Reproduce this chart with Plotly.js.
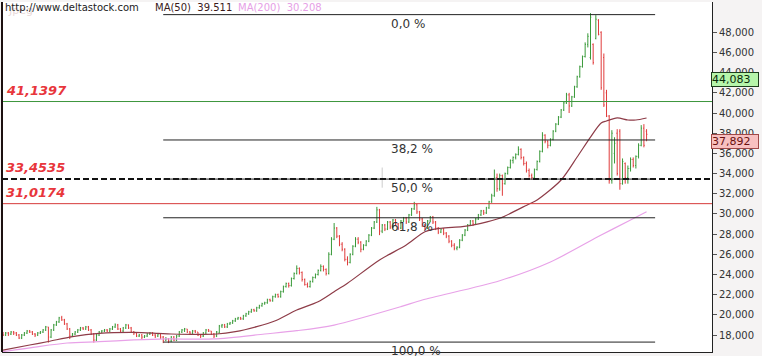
<!DOCTYPE html>
<html>
<head>
<meta charset="utf-8">
<script src="https://cdn.plot.ly/plotly-3.0.1.min.js"></script>
<style>html,body{margin:0;padding:0;background:#fff;}#chart{width:762px;height:356px;}</style>
</head>
<body>
<div id="chart"></div>
<script>
// Prices in thousands (weekly OHLC bars)
const openP = [
18.1,18.0,18.2,18.1,18.3,18.2,18.0,17.7,18.0,18.2,
18.4,18.3,18.1,18.0,18.2,18.3,18.5,18.8,17.8,18.5,
19.0,19.3,19.7,19.5,19.1,18.6,17.9,18.1,18.3,18.5,
18.7,18.6,18.8,18.5,18.1,17.5,18.0,18.3,18.4,18.5,
18.4,18.6,18.8,19.0,18.6,18.4,18.7,19.0,18.7,18.3,
18.2,17.9,18.0,17.8,17.9,18.1,18.2,18.0,17.9,18.1,
17.8,17.5,17.6,17.4,17.8,17.5,17.9,18.3,18.5,18.6,
18.3,18.2,18.4,18.3,18.0,17.9,18.2,18.5,18.4,18.1,
17.9,18.2,18.9,19.0,18.8,19.1,19.2,19.4,19.6,19.7,
19.6,19.9,20.1,20.3,20.5,20.4,20.7,20.9,21.1,21.2,
21.5,21.4,21.8,22.0,21.8,22.3,22.8,23.1,22.9,23.6,
24.1,24.6,24.2,23.5,23.0,22.8,23.3,23.7,24.0,24.4,
24.8,24.5,24.1,26.0,27.5,28.6,27.8,27.0,26.5,25.5,
25.2,26.0,26.8,27.5,27.2,26.5,26.9,27.3,27.9,28.6,
29.2,30.4,28.3,28.9,28.5,29.2,28.7,29.4,29.0,28.6,
29.3,29.6,29.2,29.9,30.5,30.9,30.2,29.5,28.9,28.6,
29.3,29.7,29.2,28.6,28.2,28.5,28.1,27.8,27.3,26.9,
26.6,26.7,27.4,27.9,28.4,28.9,29.3,29.0,29.5,29.9,
30.3,30.1,30.6,31.2,31.8,33.6,32.5,33.8,33.0,34.0,
34.6,35.3,35.6,35.9,36.4,35.6,35.0,34.3,33.8,33.6,
34.4,35.2,36.2,37.8,37.2,36.8,37.4,38.2,38.9,39.6,
40.3,41.0,41.8,40.7,41.6,42.6,43.6,44.6,45.6,46.8,
45.5,46.8,47.4,49.2,48.0,45.5,42.0,39.7,33.3,36.0,
38.0,38.2,33.0,35.0,33.6,34.5,35.4,34.8,35.7,36.8,
38.5,38.2];
const highP = [
18.3,18.3,18.3,18.4,18.4,18.3,18.1,18.1,18.3,18.5,
18.5,18.4,18.2,18.3,18.4,18.6,18.9,18.8,18.6,19.1,
19.4,19.8,19.9,19.6,19.2,18.7,18.2,18.4,18.6,18.8,
18.8,18.9,18.9,18.6,18.2,18.1,18.4,18.5,18.6,18.6,
18.7,18.9,19.15,19.1,18.7,18.8,19.1,19.05,18.8,18.4,
18.3,18.1,18.1,18.0,18.2,18.3,18.3,18.1,18.2,18.2,
17.9,17.8,17.7,17.9,17.9,18.0,18.4,18.6,18.7,18.6,
18.4,18.5,18.5,18.3,18.1,18.3,18.6,18.6,18.4,18.2,
18.4,19.0,19.1,19.1,19.2,19.3,19.5,19.7,19.8,19.8,
20.0,20.2,20.4,20.6,20.6,20.8,21.0,21.2,21.3,21.6,
21.6,21.9,22.1,22.1,22.4,22.9,23.2,23.2,23.7,24.2,
24.9,24.7,24.3,23.6,23.2,23.4,23.8,24.1,24.5,25.0,
24.9,24.6,26.2,27.7,29.1,28.7,27.9,27.2,26.6,25.8,
26.1,26.9,27.7,27.7,27.3,27.0,27.4,28.0,28.7,29.3,
30.7,30.5,29.0,29.0,29.3,29.3,29.5,29.5,29.1,29.4,
29.7,29.7,30.0,30.6,31.2,31.0,30.3,29.6,29.0,29.4,
29.8,29.8,29.3,28.7,28.6,28.6,28.2,27.9,27.4,27.1,
26.8,27.5,28.0,28.5,29.0,29.4,29.4,29.6,30.0,30.4,
30.4,30.7,31.3,32.0,34.4,34.0,34.0,33.9,34.1,34.7,
35.4,35.7,36.0,36.7,36.5,35.7,35.2,34.5,34.0,34.5,
35.3,36.3,38.1,37.9,37.3,37.5,38.3,39.0,39.7,40.4,
41.1,42.0,42.0,41.7,42.7,43.7,44.7,45.7,47.0,47.9,
49.9,46.9,49.7,49.3,48.1,45.9,42.3,39.8,38.3,37.6,
38.4,38.4,35.5,35.1,34.8,35.6,35.6,35.8,37.0,38.8,
38.9,38.4];
const lowP = [
17.9,17.9,17.9,18.0,18.0,17.9,17.6,17.6,17.9,18.1,
18.2,18.0,17.8,17.9,18.1,18.2,18.4,17.25,17.7,18.4,
18.9,19.2,19.4,19.0,18.5,17.6,17.8,18.0,18.2,18.4,
18.5,18.5,18.4,18.0,17.25,17.4,17.9,18.2,18.3,18.3,
18.3,18.5,18.7,18.5,18.3,18.3,18.6,18.6,18.2,18.0,
17.8,17.8,17.6,17.7,17.8,18.0,17.9,17.7,17.8,17.6,
17.2,17.4,17.2,17.3,17.4,17.4,17.8,18.2,18.3,18.2,
18.0,18.1,18.2,17.9,17.7,17.8,18.1,18.3,18.0,17.7,
17.8,18.2,18.7,18.7,18.7,19.0,19.1,19.3,19.5,19.5,
19.5,19.8,20.0,20.2,20.3,20.3,20.6,20.8,21.0,21.1,
21.3,21.3,21.7,21.7,21.7,22.2,22.7,22.7,22.8,23.5,
24.0,24.0,23.3,22.9,22.7,22.7,23.2,23.6,23.9,24.3,
24.3,23.9,24.0,25.9,27.4,27.6,26.8,26.3,25.3,24.9,
25.1,25.9,26.7,27.0,26.2,26.4,26.8,27.2,27.8,28.5,
29.1,27.9,28.1,28.3,28.4,28.5,28.6,28.9,28.4,28.5,
29.2,29.0,29.1,29.8,30.4,30.0,29.3,28.7,28.4,28.5,
29.2,29.0,28.4,28.0,28.1,27.9,27.6,27.1,26.7,26.4,
26.4,26.6,27.3,27.8,28.3,28.8,28.8,28.9,29.4,29.8,
29.9,30.0,30.5,31.1,31.7,32.2,32.3,31.8,32.9,33.9,
34.5,35.0,35.4,35.8,35.4,34.8,34.1,33.6,33.4,33.5,
34.3,35.1,36.1,37.0,36.5,36.7,37.3,38.1,38.8,39.5,
40.2,40.9,40.0,40.6,41.5,42.5,43.5,44.5,45.5,46.5,
45.3,44.8,47.3,47.7,42.3,40.6,39.6,33.0,33.0,35.0,
33.8,32.4,32.9,33.0,33.0,34.2,34.6,34.5,35.5,36.7,
36.6,37.2];
const closeP = [
18.0,18.2,18.1,18.3,18.2,18.0,17.7,18.0,18.2,18.4,
18.3,18.1,18.0,18.2,18.3,18.5,18.8,17.8,18.5,19.0,
19.3,19.7,19.5,19.1,18.6,17.9,18.1,18.3,18.5,18.7,
18.6,18.8,18.5,18.1,17.5,18.0,18.3,18.4,18.5,18.4,
18.6,18.8,19.0,18.6,18.4,18.7,19.0,18.7,18.3,18.2,
17.9,18.0,17.8,17.9,18.1,18.2,18.0,17.9,18.1,17.8,
17.5,17.6,17.4,17.8,17.5,17.9,18.3,18.5,18.6,18.3,
18.2,18.4,18.3,18.0,17.9,18.2,18.5,18.4,18.1,17.9,
18.3,18.9,19.0,18.8,19.1,19.2,19.4,19.6,19.7,19.6,
19.9,20.1,20.3,20.5,20.4,20.7,20.9,21.1,21.2,21.5,
21.4,21.8,22.0,21.8,22.3,22.8,23.1,22.9,23.6,24.1,
24.6,24.2,23.5,23.0,22.8,23.3,23.7,24.0,24.4,24.8,
24.5,24.1,26.0,27.5,28.6,27.8,27.0,26.5,25.5,25.2,
26.0,26.8,27.5,27.2,26.5,26.9,27.3,27.9,28.6,29.2,
30.4,28.3,28.9,28.5,29.2,28.7,29.4,29.0,28.6,29.3,
29.6,29.2,29.9,30.5,30.9,30.2,29.5,28.9,28.6,29.3,
29.7,29.2,28.6,28.2,28.5,28.1,27.8,27.3,26.9,26.6,
26.7,27.4,27.9,28.4,28.9,29.3,29.0,29.5,29.9,30.3,
30.1,30.6,31.2,31.8,33.6,32.5,33.8,33.0,34.0,34.6,
35.3,35.6,35.9,36.4,35.6,35.0,34.3,33.8,33.6,34.4,
35.2,36.2,37.8,37.2,36.8,37.4,38.2,38.9,39.6,40.3,
41.0,41.8,40.7,41.6,42.6,43.6,44.6,45.6,46.8,47.6,
49.5,45.0,49.3,47.8,42.5,40.8,39.7,33.3,38.0,37.0,
34.0,33.0,35.2,33.6,34.5,35.4,34.8,35.7,36.8,38.5,
36.8,37.892];

// Moving averages (bar index, value)
const ma50X = [0,10,17,26,36,49,58,63,80,87,95,102,110,118,124,129,141,151,158,164,172,179,186,197,200,209,215,220,224,226,230,234,237,241];
const ma50  = [16.50,17.01,17.36,17.85,18.17,18.27,18.17,18.10,18.10,18.33,18.83,19.42,20.48,21.30,22.29,23.13,25.44,26.92,28.24,28.58,28.74,29.07,29.57,30.99,31.38,33.36,35.64,37.62,39.01,39.21,39.51,39.31,39.31,39.51];
const ma200X = [0,12,24,36,49,61,79,98,110,124,149,157,186,205,224,235,241];
const ma200  = [16.35,16.81,17.21,17.34,17.51,17.61,17.61,18.10,18.43,18.99,20.81,21.47,23.38,25.24,27.91,29.40,30.21];

// Fibonacci retracement levels
const fibLevels = [49.75, 37.33, 33.4535, 29.62, 17.30];
const fibLabels = ["0,0 %", "38,2 %", "50,0 %", "61,8 %", "100,0 %"];
const fibStart = 60, fibEnd = 244.2, fibLabelX = 144.5;

// Horizontal price levels
const levelValues = [41.1397, 33.4535, 31.0174];
const levelLabels = ["41,1397", "33,4535", "31,0174"];
const levelColors = ["#3c963c", "#111111", "#d63a3a"];
const levelDash = ["solid", "6px,3px", "solid"];
const levelWidth = [1, 2, 1];

// Faint marker line (bar index, from, to)
const markerX = 142, markerLow = 32.6, markerHigh = 34.6;

// Right-hand price boxes
const boxValues = [44.083, 37.892];
const boxLabels = ["44,083", "37,892"];

const tickVals = [18,20,22,24,26,28,30,32,34,36,38,40,42,44,46,48];
const tickText = ["18,000","20,000","22,000","24,000","26,000","28,000","30,000","32,000","34,000","36,000","38,000","40,000","42,000","44,000","46,000","48,000"];

const idx = closeP.map((_, i) => i);

const traces = [
  {type:'scatter', mode:'lines', x: ma200X, y: ma200, line:{color:'#e8a2e8', width:1.2, shape:'spline', smoothing:0.8}, hoverinfo:'skip'},
  {type:'scatter', mode:'lines', x: ma50X, y: ma50, line:{color:'#8e3c48', width:1.2, shape:'spline', smoothing:0.8}, hoverinfo:'skip'},
  {type:'ohlc', x: idx, open: openP, high: highP, low: lowP, close: closeP,
   increasing:{line:{color:'#3a9a3a', width:1}}, decreasing:{line:{color:'#e03c3c', width:1}},
   tickwidth:0.3, hoverinfo:'skip'}
];

const shapes = [];
const annotations = [];

shapes.push({type:'line', xref:'x', yref:'y', x0:markerX, x1:markerX, y0:markerLow, y1:markerHigh,
  line:{color:'#cccccc', width:1}});

levelValues.forEach((v, k) => {
  shapes.push({type:'line', xref:'paper', yref:'y', x0:0, x1:1, y0:v, y1:v,
    line:{color:levelColors[k], width:levelWidth[k], dash:levelDash[k]}});
  annotations.push({xref:'paper', yref:'y', x:0, y:v, xanchor:'left', yanchor:'bottom',
    xshift:2, yshift:2, showarrow:false, text:'<b><i>'+levelLabels[k]+'</i></b>',
    font:{family:'DejaVu Sans', size:13, color:'#e8363c'}});
});

fibLevels.forEach((v, k) => {
  shapes.push({type:'line', xref:'x', yref:'y', x0:fibStart, x1:fibEnd, y0:v, y1:v,
    line:{color:'#222222', width:1}});
  annotations.push({xref:'x', yref:'y', x:fibLabelX, y:v, xanchor:'left', yanchor:'top',
    yshift:0, showarrow:false, text:fibLabels[k],
    font:{family:'DejaVu Sans', size:12, color:'#333333'}});
});

// left border
shapes.push({type:'line', xref:'paper', yref:'paper', x0:0, x1:0, y0:0, y1:1, line:{color:'#1c1010', width:2}});

const boxBg = ['#b6f5aa', '#f8c0c0'];
const boxBorder = ['#1d3d1d', '#a04848'];
const boxFont = ['#0a2a0a', '#6a1010'];
boxValues.forEach((v, k) => {
  annotations.push({xref:'paper', yref:'y', x:1, y:v, xanchor:'left', yanchor:'top',
    xshift:-1, showarrow:false, text:boxLabels[k], bgcolor:boxBg[k], bordercolor:boxBorder[k],
    borderwidth:1, borderpad:0, width:46, align:'left',
    font:{family:'DejaVu Sans', size:11, color:boxFont[k]}});
});

// header texts
annotations.push({xref:'paper', yref:'paper', x:0, y:1, xanchor:'left', yanchor:'top', xshift:4, yshift:0,
  showarrow:false, text:'Jpeg', font:{family:'DejaVu Sans', size:11, color:'#eadada'}});
annotations.push({xref:'paper', yref:'paper', x:0, y:1, xanchor:'left', yanchor:'top', xshift:1, yshift:2,
  showarrow:false, text:'http://www.deltastock.com', font:{family:'DejaVu Sans', size:10, color:'#222222'}});
annotations.push({xref:'paper', yref:'paper', x:151/710, y:1, xanchor:'left', yanchor:'top', yshift:2,
  showarrow:false, text:'MA(50)&nbsp;&nbsp;39.511', font:{family:'DejaVu Sans', size:10, color:'#3a1a1a'}});
annotations.push({xref:'paper', yref:'paper', x:234/710, y:1, xanchor:'left', yanchor:'top', yshift:2,
  showarrow:false, text:'MA(200)&nbsp;&nbsp;30.208', font:{family:'DejaVu Sans', size:10, color:'#e6a0e6'}});

const layout = {
  width:762, height:356,
  margin:{l:2, r:50, t:2, b:4, pad:0},
  paper_bgcolor:'#f5f3f3', plot_bgcolor:'#ffffff',
  showlegend:false,
  xaxis:{range:[-0.375, 265.5], showgrid:false, zeroline:false, showticklabels:false, ticks:'',
    showline:true, linecolor:'#222', linewidth:1, rangeslider:{visible:false}, fixedrange:true},
  yaxis:{side:'right', range:[16.318, 51.003], tickvals:tickVals, ticktext:tickText,
    showgrid:false, zeroline:false, showline:true, linecolor:'#222', linewidth:1,
    ticks:'outside', ticklen:4, tickcolor:'#555', tickfont:{family:'DejaVu Sans', size:10, color:'#333'}, fixedrange:true},
  shapes:shapes, annotations:annotations
};

Plotly.newPlot('chart', traces, layout, {displayModeBar:false, staticPlot:true});
</script>
</body>
</html>
